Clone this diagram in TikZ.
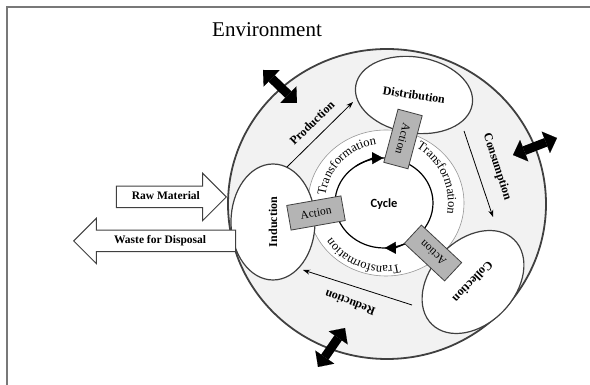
\documentclass[tikz,border=0pt]{standalone}
\usepackage{fontspec}
\setmainfont{Liberation Serif}
\newfontfamily\cyclefont{Carlito}
\usetikzlibrary{arrows.meta,shapes.geometric,shapes.arrows,decorations.text}
\definecolor{ringgray}{RGB}{242,242,242}
\definecolor{edgegray}{RGB}{64,64,64}
\definecolor{thingray}{RGB}{150,150,150}
\definecolor{boxgray}{RGB}{180,180,180}
\definecolor{framegray}{RGB}{120,120,120}

\begin{document}
\begin{tikzpicture}[x=1pt,y=1pt,
    stage/.style={ellipse,draw=edgegray,line width=1.2pt,fill=white,inner sep=0pt,font=\bfseries\fontsize{12}{12}\selectfont},
    actbox/.style={draw=edgegray,line width=0.8pt,fill=boxgray,minimum width=55pt,minimum height=25pt,inner sep=0pt,font=\fontsize{11.5}{12}\selectfont},
    lbl/.style={font=\bfseries\fontsize{12}{12}\selectfont},
    ringarrow/.style={line width=0.8pt,-{Stealth[length=7pt,width=5pt]}},
    envarrow/.style={line width=9pt,{Triangle[length=12pt,width=23pt,line width=0.1pt]}-{Triangle[length=12pt,width=23pt,line width=0.1pt]}},
    cycarrow/.style={line width=1.2pt,-{Triangle[length=11pt,width=12pt,line width=0.1pt]}},
    flowarrow/.style={single arrow,draw=edgegray,line width=1pt,fill=white,font=\bfseries\fontsize{11.5}{12}\selectfont,text height=8pt,text depth=2.5pt,inner ysep=5pt,single arrow head extend=13pt},
    trans/.style={decorate,decoration={text along path,text align=center,text={|\fontsize{12.5}{13}\selectfont|Transformation}}}]
  \useasboundingbox (0,0) rectangle (590,385);
  \draw[framegray,line width=1.2pt] (7,0) -- (7,378) -- (590,378);
  \node[font=\fontsize{21}{21}\selectfont,anchor=base] (env) at (267,348) {Environment};

  \draw[edgegray,line width=1.8pt,fill=ringgray] (387,181) ellipse[x radius=159,y radius=155];
  \draw[thingray,line width=0.6pt,fill=white] (386,182) ellipse[x radius=78,y radius=73];

  \coordinate (cyc) at (384,182);
  \draw[line width=1.2pt] (cyc) ellipse[x radius=49,y radius=45];
  \draw[cycarrow] ([shift={(125:49 and 45)}]cyc) arc[start angle=125,end angle=91,x radius=49,y radius=45];
  \draw[cycarrow] ([shift={(-55:49 and 45)}]cyc) arc[start angle=-55,end angle=-89,x radius=49,y radius=45];
  \node[font=\cyclefont\bfseries\fontsize{12.5}{13}\selectfont] (cycle) at (384,181) {Cycle};

  \path[trans] ([shift={(185:59)}]cyc) arc[start angle=185,end angle=85,radius=59];
  \path[trans] ([shift={(75:64)}]cyc) arc[start angle=75,end angle=-25,radius=64];
  \path[trans] ([shift={(-61:63)}]cyc) arc[start angle=-61,end angle=-161,radius=63];

  \node[stage,minimum width=118pt,minimum height=76pt,rotate=-9] (dist) at (414,290) {Distribution};
  \node[stage,minimum width=116pt,minimum height=84pt,rotate=90] (ind) at (273,163) {Induction};
  \node[stage,minimum width=118pt,minimum height=84pt,rotate=-134] (coll) at (473,103) {Collection};

  \node[actbox,rotate=10] (act1) at (316,172) {Action};
  \node[actbox,rotate=-105] (act2) at (403,246) {Action};
  \node[actbox,rotate=137] (act3) at (433,132) {Action};

  \node[lbl,rotate=44] (prod) at (312,262) {Production};
  \node[lbl,rotate=-72] (cons) at (497,218) {Consumption};
  \node[lbl,rotate=159] (red) at (350,82) {Reduction};
  \coordinate (p1) at (287,218);
  \coordinate (p2) at (353,283);
  \coordinate (c1) at (464,254);
  \coordinate (c2) at (493,168);
  \coordinate (r1) at (412,80);
  \coordinate (r2) at (303,115);
  \draw[ringarrow] (p1) -- (p2);
  \draw[ringarrow] (c1) -- (c2);
  \draw[ringarrow] (r1) -- (r2);

  \coordinate (e1) at (263,315);
  \coordinate (e2) at (297,282);
  \coordinate (e3) at (513,230);
  \coordinate (e4) at (557,247);
  \coordinate (e5) at (318,18);
  \coordinate (e6) at (345,57);
  \draw[envarrow] (e1) -- (e2);
  \draw[envarrow] (e3) -- (e4);
  \draw[envarrow] (e5) -- (e6);

  \node[flowarrow,minimum height=110pt,anchor=tip] (raw) at (227,188) {Raw Material};
  \node[flowarrow,shape border rotate=180,single arrow head extend=12pt,minimum height=162pt,anchor=tip] (waste) at (73,144) {Waste for Disposal};
\end{tikzpicture}
\end{document}
